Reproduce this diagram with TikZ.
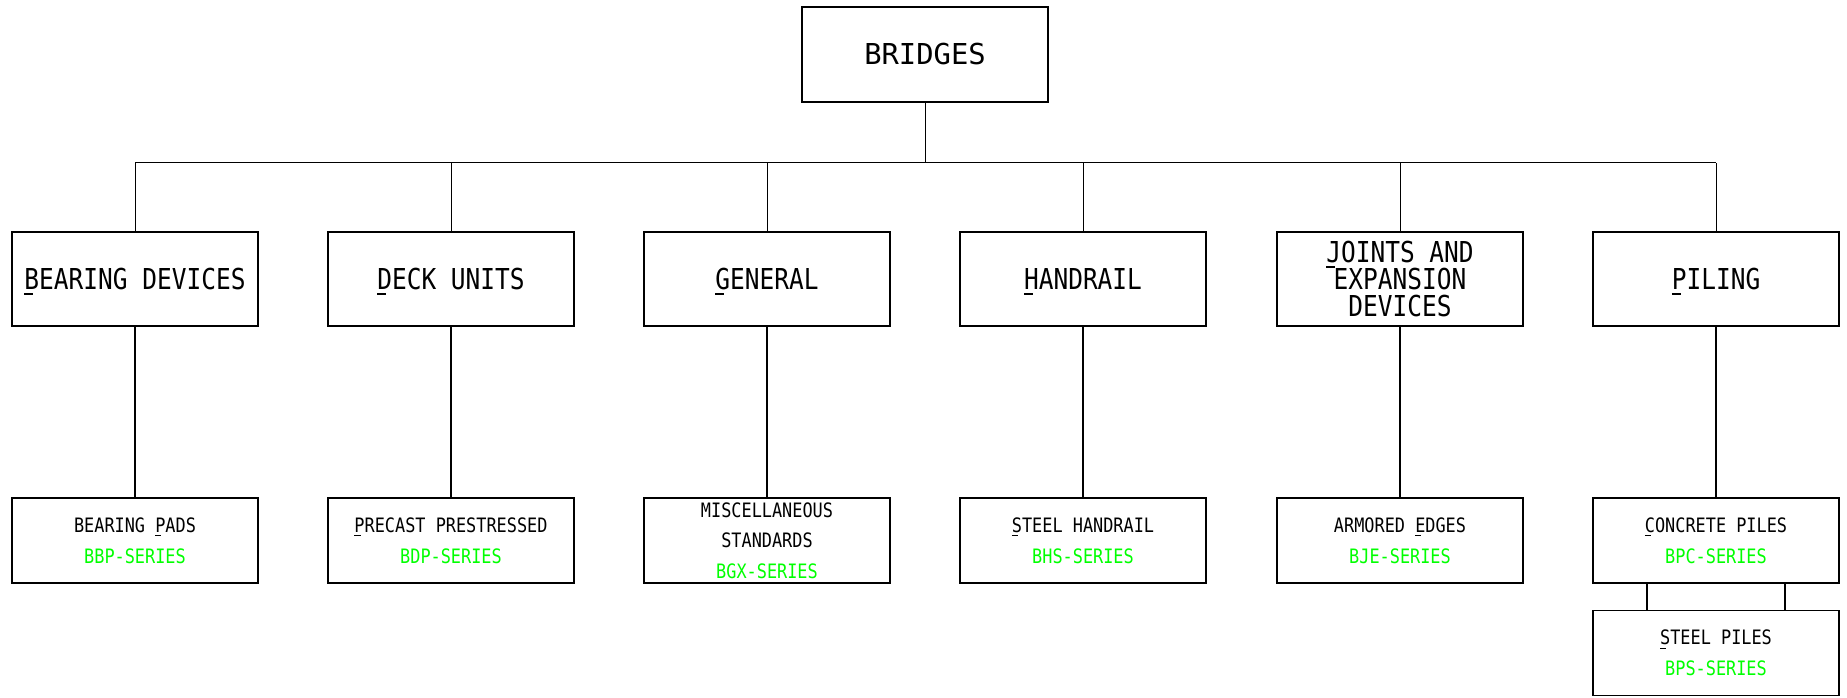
\documentclass[tikz,border=0pt]{standalone}
\usepackage{fontspec}
\newfontfamily\cadfont[FakeStretch=0.85]{DejaVu Sans Mono}
\newfontfamily\cadwide{DejaVu Sans Mono}
\usepackage{tikz}
\usetikzlibrary{positioning}
\tikzset{>={stealth}}
\definecolor{seriesgreen}{RGB}{0,255,0}
\newcommand{\hk}[1]{\setbox0\hbox{#1}\smash{\rlap{\rule[-0.2em]{0.6\wd0}{0.07em}}}#1}
\newcommand{\series}[1]{{\color{seriesgreen}#1}}
\tikzset{
  catbox/.style={draw, line width=1pt, minimum width=4.92cm, minimum height=1.88cm,
    inner sep=0pt, align=center, font=\cadfont\fontsize{16.4}{15.4}\selectfont},
  sheetbox/.style={draw, line width=1pt, minimum width=4.92cm, minimum height=1.7cm,
    inner sep=0pt, align=center, font=\cadfont\fontsize{11.3}{17.4}\selectfont},
  bus/.style={line width=0.5pt},
  drop/.style={line width=1pt}
}

\begin{document}
\begin{tikzpicture}[x=0.02cm, y=-0.02cm]
  \useasboundingbox (0,0) rectangle (1847,697);
  % top
  \node[catbox, minimum height=1.9cm, font=\cadwide\fontsize{16.4}{15.4}\selectfont]
    (bridges) at (925,54.5) {BRIDGES};
  % categories
  \node[catbox] (bearing)  at (135,279)  {\hk{B}EARING DEVICES};
  \node[catbox] (deck)     at (451,279)  {\hk{D}ECK UNITS};
  \node[catbox] (general)  at (767,279)  {\hk{G}ENERAL};
  \node[catbox] (handrail) at (1083,279) {\hk{H}ANDRAIL};
  \node[catbox] (joints)   at (1400,279) {\hk{J}OINTS AND\\EXPANSION\\DEVICES};
  \node[catbox] (piling)   at (1716,279) {\hk{P}ILING};
  % sheets
  \node[sheetbox] (pads)       at (135,540.5)  {BEARING \hk{P}ADS\\\series{BBP-SERIES}};
  \node[sheetbox] (precast)    at (451,540.5)  {\hk{P}RECAST PRESTRESSED\\\series{BDP-SERIES}};
  \node[sheetbox] (misc)       at (767,540.5)  {MISCELLANEOUS\\STANDARDS\\\series{BGX-SERIES}};
  \node[sheetbox] (steelrail)  at (1083,540.5) {\hk{S}TEEL HANDRAIL\\\series{BHS-SERIES}};
  \node[sheetbox] (edges)      at (1400,540.5) {ARMORED \hk{E}DGES\\\series{BJE-SERIES}};
  \node[sheetbox] (concrete)   at (1716,540.5) {\hk{C}ONCRETE PILES\\\series{BPC-SERIES}};
  \node[sheetbox] (steelpiles) at (1716,653)   {\hk{S}TEEL PILES\\\series{BPS-SERIES}};

  \coordinate (hub) at (925,162.5);
  \draw[bus] (bridges.south) -- (hub);
  \draw[bus] (bearing |- hub) -- (piling |- hub);
  \foreach \c in {bearing,deck,general,handrail,joints,piling}
    \draw[bus] (\c.north) -- (\c |- hub);

  \draw[drop] (bearing.south)  -- (pads.north);
  \draw[drop] (deck.south)     -- (precast.north);
  \draw[drop] (general.south)  -- (misc.north);
  \draw[drop] (handrail.south) -- (steelrail.north);
  \draw[drop] (joints.south)   -- (edges.north);
  \draw[drop] (piling.south)   -- (concrete.north);
  \draw[drop] ([xshift=-1.38cm]concrete.south) -- ([xshift=-1.38cm]steelpiles.north);
  \draw[drop] ([xshift=1.38cm]concrete.south)  -- ([xshift=1.38cm]steelpiles.north);
\end{tikzpicture}
\end{document}
